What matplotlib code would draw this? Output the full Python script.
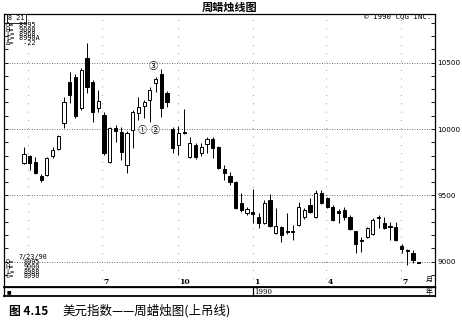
import numpy as np
import pandas as pd
import matplotlib
matplotlib.use('Agg')
import matplotlib.pyplot as plt
import matplotlib.dates as mdates

plt.rcParams['font.family'] = ['DejaVu Sans', 'Noto Sans CJK SC']
CJK = ['Noto Sans CJK SC', 'DejaVu Sans']

# weekly US dollar index, last bar is the week of 7/23/90
last_week = '1990-07-23'
opens = [9745, 9795, 9750, 9645, 9655, 9795, 9850, 10045, 10355, 10390,
         10160, 10535, 10355, 10160, 10105, 9750, 10005, 9975, 9730, 9995,
         10120, 10175, 10220, 10345, 10415, 10270, 10000, 9880, 9980, 9790,
         9880, 9820, 9885, 9925, 9865, 9700, 9645, 9600, 9440, 9365,
         9375, 9335, 9290, 9465, 9215, 9260, 9228, 9230, 9275, 9335,
         9425, 9335, 9520, 9480, 9410, 9375, 9390, 9335, 9230, 9165,
         9185, 9210, 9330, 9290, 9270, 9260, 9120, 9088, 9065, 8995]
highs = [9865, 9805, 9790, 9660, 9790, 9865, 9955, 10240, 10430, 10415,
         10460, 10650, 10370, 10295, 10130, 10015, 10030, 10015, 9985, 10145,
         10240, 10220, 10315, 10390, 10455, 10285, 10015, 10025, 10150, 9940,
         9895, 9895, 9940, 9940, 9870, 9730, 9675, 9610, 9520, 9410,
         9550, 9365, 9465, 9510, 9405, 9270, 9365, 9275, 9450, 9405,
         9480, 9540, 9540, 9490, 9430, 9395, 9410, 9350, 9230, 9185,
         9260, 9330, 9350, 9335, 9300, 9300, 9135, 9095, 9090, 9000]
lows = [9735, 9690, 9660, 9600, 9645, 9780, 9840, 10010, 10195, 10085,
        10145, 10270, 10055, 10130, 9805, 9745, 9900, 9765, 9670, 9855,
        10070, 10085, 10055, 10280, 10090, 10165, 9820, 9805, 9960, 9780,
        9775, 9795, 9820, 9780, 9700, 9615, 9580, 9395, 9375, 9350,
        9290, 9255, 9285, 9260, 9210, 9150, 9210, 9165, 9270, 9320,
        9365, 9330, 9435, 9405, 9305, 9290, 9315, 9240, 9065, 9075,
        9180, 9200, 9255, 9245, 9165, 9155, 9065, 8975, 8990, 8988]
closes = [9810, 9745, 9670, 9615, 9780, 9840, 9945, 10205, 10255, 10100,
          10445, 10315, 10130, 10210, 9820, 10005, 9985, 9825, 9970, 10130,
          10165, 10205, 10295, 10375, 10160, 10205, 9855, 9970, 9970, 9895,
          9790, 9865, 9925, 9855, 9705, 9670, 9600, 9405, 9390, 9395,
          9360, 9290, 9440, 9270, 9270, 9200, 9222, 9222, 9410, 9390,
          9375, 9520, 9440, 9410, 9315, 9370, 9335, 9245, 9135, 9155,
          9255, 9315, 9335, 9255, 9262, 9165, 9095, 9080, 9012, 8990]

price_ticks = [9000, 9500, 10000, 10500]
month_lines = ['1989-04-01', '1989-07-01', '1989-10-01', '1990-01-01', '1990-04-01', '1990-07-01']
month_labels = ['', '7', '10', '1', '4', '7']
year_label = '1990'

top_names = ['O=', 'H=', 'L=', 'L=', 'Δ=']
top_values = [' 8995', ' 9000', ' 8968', ' 8990A', '  -22']
last_date = '7/23/90'
last_names = ['O=', 'H=', 'L=', 'C=']
last_values = ['8995', '9000', '8988', '8990']

# circled labels: (candle index, at high or low, label)
notes = [(21, 'low', '①', (-1.5, -6)), (22, 'low', '②', (3.5, -3)), (23, 'high', '③', (-2, 4.5))]

o = np.array(opens); h = np.array(highs); l = np.array(lows); c = np.array(closes)
weeks = pd.date_range(end=last_week, periods=len(o), freq='7D')
x = mdates.date2num(weeks)

W, H = 462, 324
fig = plt.figure(figsize=(W / 100, H / 100), dpi=100)
ax = fig.add_axes([4 / W, 1 - 287 / H, 431 / W, 273 / H])

xmin = x[0] - 24.5
xmax = x[-1] + 20
ax.set_xlim(xmin, xmax)
ax.set_ylim(8809, 10867)

# grid
for p in price_ticks:
    ax.axhline(p, color='0.25', lw=0.6, ls=(0, (1, 2)), zorder=1)
for d in month_lines:
    ax.axvline(mdates.datestr2num(d), color='0.45', lw=0.6, ls=(0, (1, 9)), zorder=1)

# candles
up = c >= o
ax.vlines(x, l, h, color='black', lw=0.7, zorder=2)
body_lo = np.minimum(o, c)
body_h = np.maximum(np.abs(c - o), 10)
ax.bar(x, body_h, width=3.9, bottom=body_lo, color=np.where(up, 'white', 'black'),
       edgecolor='black', lw=0.7, zorder=3)

for i, where, lab, off in notes:
    y = l[i] if where == 'low' else h[i]
    ax.annotate(lab, (x[i], y), xytext=off, textcoords='offset points',
                ha='center', va='top' if where == 'low' else 'bottom',
                fontsize=6.5, family=CJK)

# axes / ticks
ax.yaxis.tick_right()
ax.set_yticks(price_ticks)
ax.set_yticks(range(8900, 10900, 100), minor=True)
ax.tick_params(axis='y', which='both', direction='in', length=3, width=0.6,
               left=True, right=True, labelleft=False, labelright=True,
               labelsize=5.2, pad=1.5)
ax.set_xticks([])
for s in ax.spines.values():
    s.set_linewidth(0.9)
ax.spines['bottom'].set_linewidth(1.3)

for d, lab in zip(month_lines, month_labels):
    ax.text(mdates.datestr2num(d) + 1.5, 0.018, lab, transform=ax.get_xaxis_transform(),
            ha='left', va='center', fontsize=5.5, family='DejaVu Serif', fontweight='bold')
ax.text(0.986, 0.026, '月', transform=ax.transAxes, ha='center', va='center',
        fontsize=5, family=CJK)

# year strip
ay = fig.add_axes([4 / W, 1 - 296 / H, 431 / W, 9 / H])
ay.set_xlim(xmin, xmax)
ay.set_ylim(0, 1)
ay.set_xticks([]); ay.set_yticks([])
for s in ay.spines.values():
    s.set_linewidth(0.9)
ay.spines['bottom'].set_linewidth(1.3)
jan = mdates.datestr2num('1990-01-01')
ay.axvline(jan, color='black', lw=0.9)
ay.text(jan + 1.5, 0.45, year_label, ha='left', va='center', fontsize=5, family='DejaVu Serif')
ay.text(0.006, 0.45, '■', transform=ay.transAxes, ha='left', va='center', fontsize=3.5)
ay.text(0.986, 0.45, '年', transform=ay.transAxes, ha='center', va='center', fontsize=5, family=CJK)


def px(xp, yp, s, **kw):
    fig.text(xp / W, 1 - yp / H, s, **kw)


mono = dict(family='DejaVu Sans Mono', fontsize=4.9, va='center')

# header box
px(8, 18.5, '8 21', ha='left', **mono,
   bbox=dict(boxstyle='square,pad=0.2', fc='white', ec='black', lw=0.6))
for k, (n, v) in enumerate(zip(top_names, top_values)):
    yy = 25 + k * 4.5
    px(6, yy, n, ha='left', **mono)
    px(15, yy, v, ha='left', **mono)

px(33, 257, last_date, ha='center', **mono)
for k, (n, v) in enumerate(zip(last_names, last_values)):
    yy = 262.3 + k * 4.6
    px(6, yy, n, ha='left', **mono)
    px(40, yy, v, ha='right', **mono)

px(432, 16.5, '© 1990 CQG INC.', ha='right', family='DejaVu Sans Mono', fontsize=5.3, va='center')

# title and caption
px(230, 7, '周蜡烛线图', ha='center', va='center', fontsize=8, fontweight='bold', family=CJK)
px(9, 311, '图 4.15', ha='left', va='center', fontsize=8.5, fontweight='bold', family=CJK)
px(62, 311, '美元指数——周蜡烛图(上吊线)', ha='left', va='center', fontsize=9, family=CJK)

fig.savefig('out.png', dpi=100)
